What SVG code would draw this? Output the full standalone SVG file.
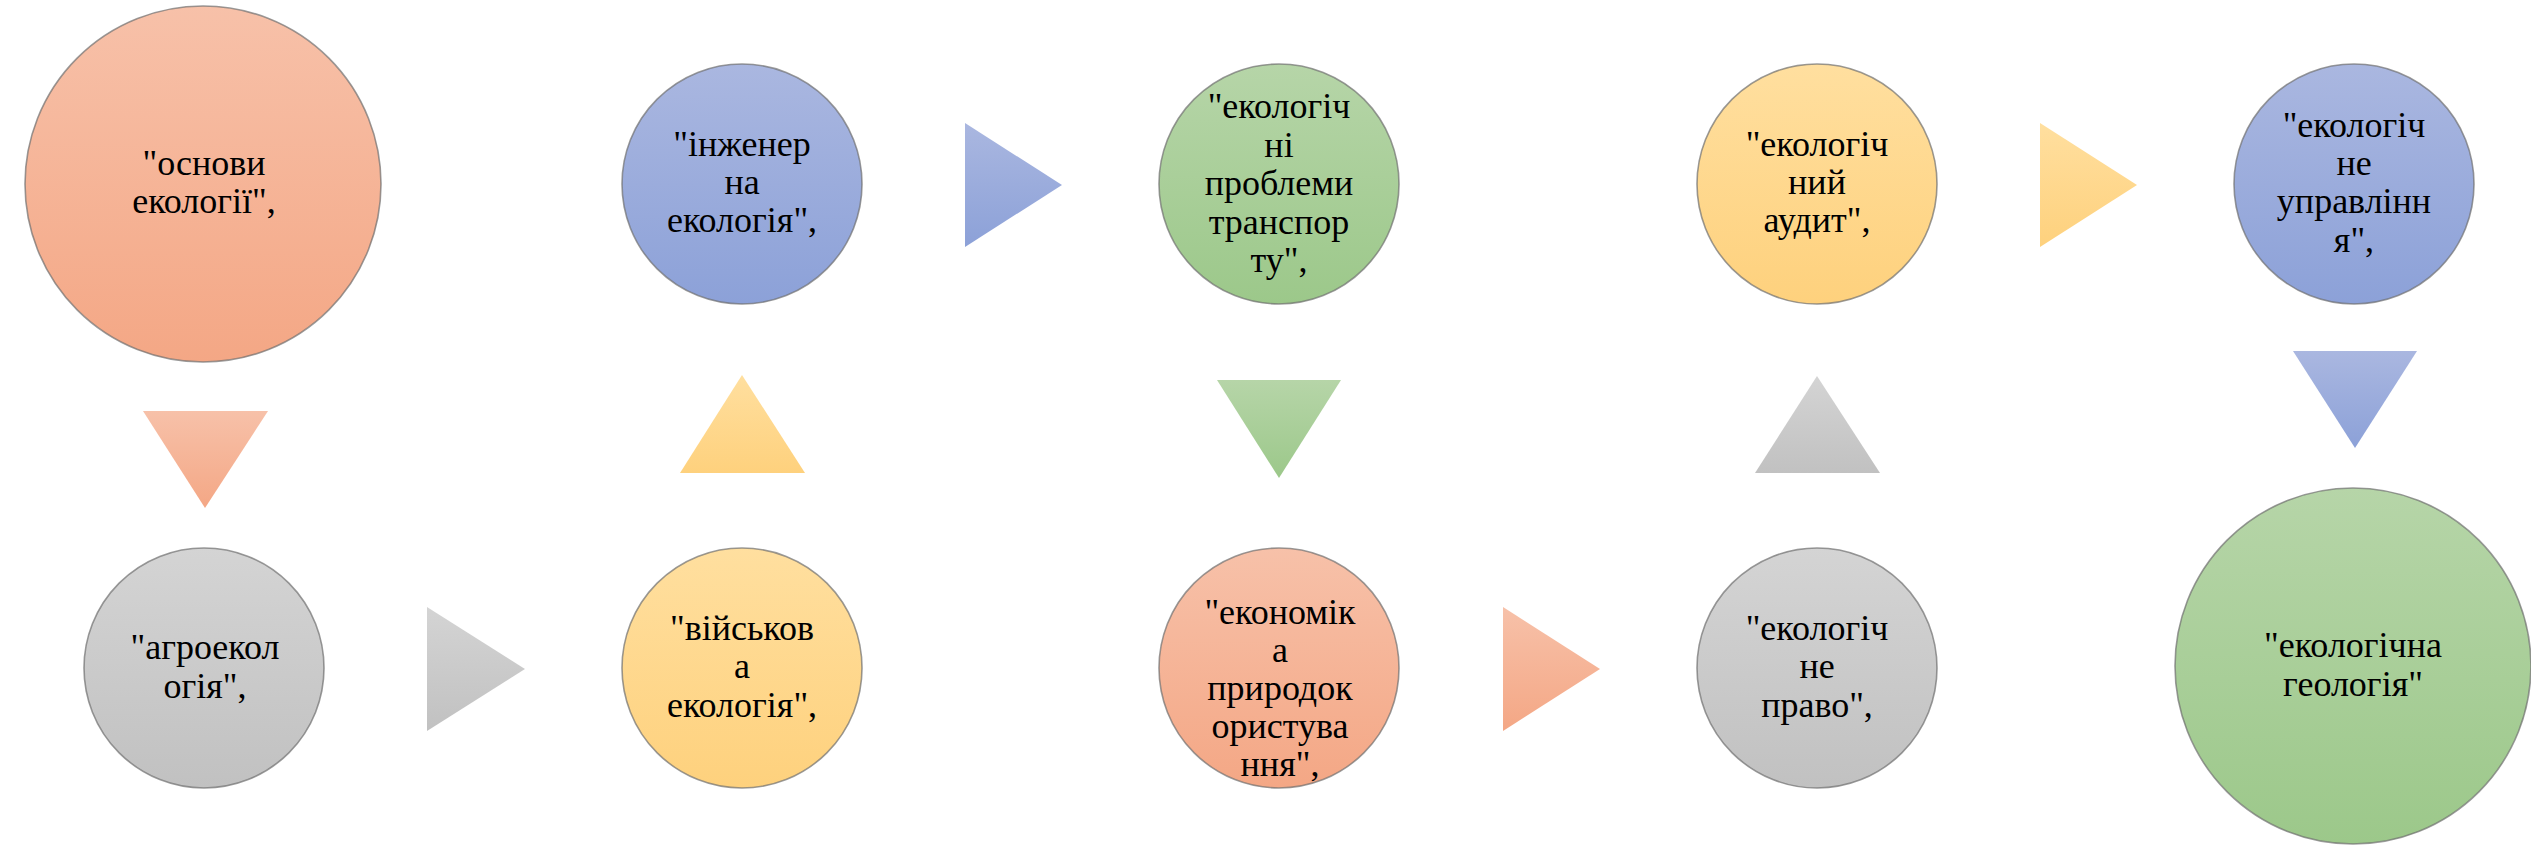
<svg xmlns="http://www.w3.org/2000/svg" width="2531" height="846" viewBox="0 0 2531 846">
<defs>
<linearGradient id="gPeach" x1="0" y1="0" x2="0" y2="1"><stop offset="0" stop-color="#F7C1A9"/><stop offset="1" stop-color="#F4A785"/></linearGradient>
<linearGradient id="gGray" x1="0" y1="0" x2="0" y2="1"><stop offset="0" stop-color="#D4D4D4"/><stop offset="1" stop-color="#C1C1C1"/></linearGradient>
<linearGradient id="gYellow" x1="0" y1="0" x2="0" y2="1"><stop offset="0" stop-color="#FFDF9F"/><stop offset="1" stop-color="#FED17D"/></linearGradient>
<linearGradient id="gBlue" x1="0" y1="0" x2="0" y2="1"><stop offset="0" stop-color="#AAB7E0"/><stop offset="1" stop-color="#8CA1D8"/></linearGradient>
<linearGradient id="gGreen" x1="0" y1="0" x2="0" y2="1"><stop offset="0" stop-color="#B6D5A8"/><stop offset="1" stop-color="#9CC88A"/></linearGradient>
</defs>
<style>
.n{stroke:#6f6f6f;stroke-opacity:0.7;stroke-width:1.6}
.t{font-size:36px;fill:#000;text-anchor:middle}
.peach{fill:url(#gPeach)}
.gray{fill:url(#gGray)}
.yellow{fill:url(#gYellow)}
.blue{fill:url(#gBlue)}
.green{fill:url(#gGreen)}
</style>
<rect width="2531" height="846" fill="#fff"/>
<g id="connectors">
<polygon class="peach" points="143,411 268,411 205,508"/>
<polygon class="gray" points="427,607 427,731 525,669"/>
<polygon class="yellow" points="680,473 805,473 742,375"/>
<polygon class="blue" points="965,123 965,247 1062,185"/>
<polygon class="green" points="1217,380 1341,380 1279,478"/>
<polygon class="peach" points="1503,607 1503,731 1600,669"/>
<polygon class="gray" points="1755,473 1880,473 1817,376"/>
<polygon class="yellow" points="2040,123 2040,247 2137,185"/>
<polygon class="blue" points="2293,351 2417,351 2355,448"/>
</g>
<g font-family="Liberation Serif, Times New Roman, serif">
<g id="node1">
<circle class="n peach" cx="203" cy="184" r="178"/>
<text class="t"><tspan x="204" y="175">"основи</tspan><tspan x="204" y="213">екології",</tspan></text>
</g>
<g id="node2">
<circle class="n gray" cx="204" cy="668" r="120"/>
<text class="t"><tspan x="205" y="659">"агроекол</tspan><tspan x="205" y="698">огія",</tspan></text>
</g>
<g id="node3">
<circle class="n yellow" cx="742" cy="668" r="120"/>
<text class="t"><tspan x="742" y="640">"військов</tspan><tspan x="742" y="678">а</tspan><tspan x="742" y="717">екологія",</tspan></text>
</g>
<g id="node4">
<circle class="n blue" cx="742" cy="184" r="120"/>
<text class="t"><tspan x="742" y="156">"інженер</tspan><tspan x="742" y="194">на</tspan><tspan x="742" y="232">екологія",</tspan></text>
</g>
<g id="node5">
<circle class="n green" cx="1279" cy="184" r="120"/>
<text class="t"><tspan x="1279" y="118">"екологіч</tspan><tspan x="1279" y="157">ні</tspan><tspan x="1279" y="195">проблеми</tspan><tspan x="1279" y="234">транспор</tspan><tspan x="1279" y="272">ту",</tspan></text>
</g>
<g id="node6">
<circle class="n peach" cx="1279" cy="668" r="120"/>
<text class="t"><tspan x="1280" y="624">"економік</tspan><tspan x="1280" y="662">а</tspan><tspan x="1280" y="700">природок</tspan><tspan x="1280" y="738">ористува</tspan><tspan x="1280" y="776">ння",</tspan></text>
</g>
<g id="node7">
<circle class="n gray" cx="1817" cy="668" r="120"/>
<text class="t"><tspan x="1817" y="640">"екологіч</tspan><tspan x="1817" y="678">не</tspan><tspan x="1817" y="717">право",</tspan></text>
</g>
<g id="node8">
<circle class="n yellow" cx="1817" cy="184" r="120"/>
<text class="t"><tspan x="1817" y="156">"екологіч</tspan><tspan x="1817" y="194">ний</tspan><tspan x="1817" y="232">аудит",</tspan></text>
</g>
<g id="node9">
<circle class="n blue" cx="2354" cy="184" r="120"/>
<text class="t"><tspan x="2354" y="137">"екологіч</tspan><tspan x="2354" y="175">не</tspan><tspan x="2354" y="213">управлінн</tspan><tspan x="2354" y="252">я",</tspan></text>
</g>
<g id="node10">
<circle class="n green" cx="2353" cy="666" r="178"/>
<text class="t"><tspan x="2353" y="657">"екологічна</tspan><tspan x="2353" y="696">геологія"</tspan></text>
</g>
</g>
</svg>
